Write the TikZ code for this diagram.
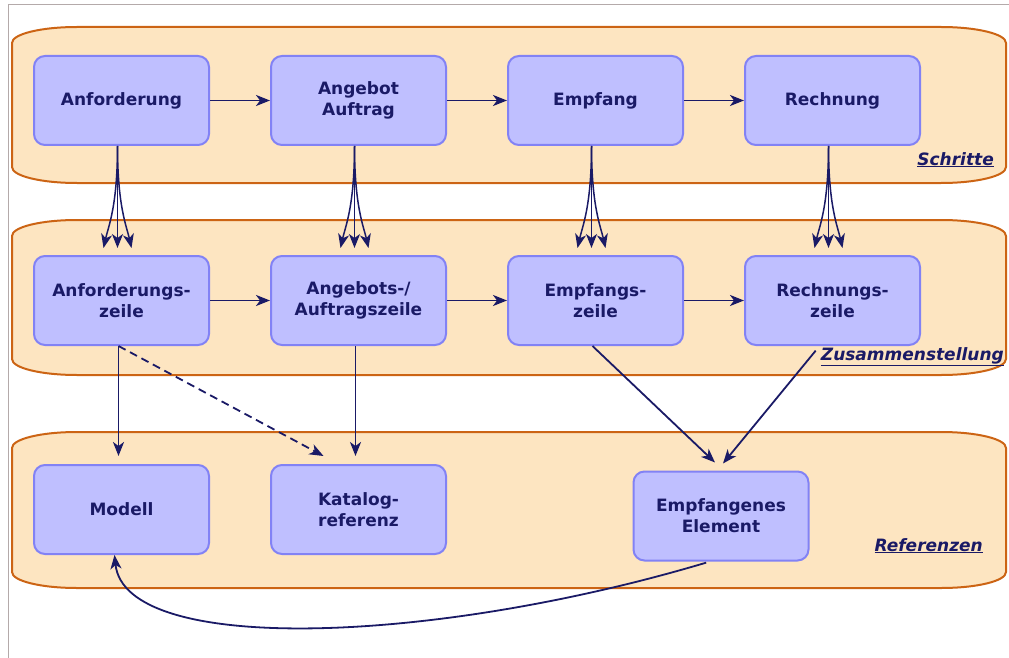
\documentclass[tikz,border=0pt]{standalone}
\usepackage{fontspec}
\setmainfont{DejaVu Sans}
\usepackage{xcolor}
\definecolor{Lavender}{HTML}{BFBFFF}
\definecolor{Periwinkle}{HTML}{8282F5}
\definecolor{Peach}{HTML}{FDE5C1}
\definecolor{Rust}{HTML}{CC6414}
\definecolor{Midnight}{HTML}{1A1A66}
\definecolor{Ash}{HTML}{B4AAAA}
\colorlet{cFill}{Lavender}
\colorlet{cBorder}{Periwinkle}
\colorlet{cText}{Midnight}
\usepackage{tikz}
\usetikzlibrary{arrows.meta, positioning}
\tikzset{
	node distance = 60pt,
	line width = 1.5pt,
	>={Stealth[length=14pt,width=11pt,inset=4pt]},
	font = \fontsize{17}{21}\selectfont\bfseries,
	box/.style={
		draw=cBorder,
		fill=cFill,
		line width=2pt,
		rounded corners=11pt,
		minimum width=175pt,
		minimum height=89pt,
		align=center,
		text=cText,
		inner sep=0pt
	},
	edge/.style={
		->,
		draw=cText,
		line width=1.8pt
	},
	fan/.style={
		->,
		draw=cText,
		line width=1.5pt
	},
	panel/.style={
		draw=Rust,
		fill=Peach,
		line width=2pt
	},
	tag/.style={
		font=\fontsize{17}{21}\selectfont\bfseries\itshape,
		text=cText,
		anchor=base east,
		inner sep=0pt
	}
}

\begin{document}
\begin{tikzpicture}[x=1pt, y=-1pt]
	\useasboundingbox (0,0) rectangle (1009,658);
	\draw[Ash, line width=1pt] (8,658) -- (8,4.5) -- (1009,4.5);

	% the three bands
	\foreach \ya/\yb in {27/183, 220/375, 432/588}
		\draw[panel] (12,\ya+16) .. controls (12,\ya+7) and (41,\ya) .. (77,\ya)
			-- (941,\ya) .. controls (977,\ya) and (1006,\ya+7) .. (1006,\ya+16)
			-- (1006,\yb-16) .. controls (1006,\yb-7) and (977,\yb) .. (941,\yb)
			-- (77,\yb) .. controls (41,\yb) and (12,\yb-7) .. (12,\yb-16) -- cycle;

	\node (schritte) [tag] at (994,165) {\underline{Schritte}};
	\node (zusammen) [tag] at (1004,360) {\underline{Zusammenstellung}};
	\node (referenzen) [tag] at (983,551) {\underline{Referenzen}};

	\node (anf) [box] at (121.5,100.5) {Anforderung};
	\node (ang) [box, right=of anf] {Angebot\\Auftrag};
	\node (emp) [box, right=of ang] {Empfang};
	\node (rech) [box, right=of emp] {Rechnung};

	\node (anfz) [box, below=109pt of anf] {Anforderungs-\\zeile};
	\node (angz) [box, right=of anfz] {Angebots-/\\Auftragszeile};
	\node (empz) [box, right=of angz] {Empfangs-\\zeile};
	\node (rechz) [box, right=of empz] {Rechnungs-\\zeile};

	\node (mod) [box, below=118pt of anfz] {Modell};
	\node (kat) [box, right=of mod] {Katalog-\\referenz};
	\node (elem) [box] at (721,516) {Empfangenes\\Element};

	\draw[edge] (anf) -- (ang);
	\draw[edge] (ang) -- (emp);
	\draw[edge] (emp) -- (rech);
	\draw[edge] (anfz) -- (angz);
	\draw[edge] (angz) -- (empz);
	\draw[edge] (empz) -- (rechz);

	\foreach \src/\dst in {anf/anfz, ang/angz, emp/empz, rech/rechz} {
		\draw[fan, shorten >=7pt] ([xshift=-4pt]\src.south) -- ([xshift=-4pt]\dst.north);
		\draw[fan] ([xshift=-4pt]\src.south) .. controls +(0,60) and +(5,-22) .. ([xshift=-18pt, yshift=7pt]\dst.north);
		\draw[fan] ([xshift=-4pt]\src.south) .. controls +(0,60) and +(-5,-22) .. ([xshift=10pt, yshift=7pt]\dst.north);
	}

	\draw[edge, shorten >=8pt] ([xshift=-3pt]anfz.south) -- ([xshift=-3pt]mod.north);
	\draw[edge, shorten >=8pt] ([xshift=-3pt]angz.south) -- ([xshift=-3pt]kat.north);
	\draw[edge, dash pattern=on 8pt off 5pt] ([xshift=-3pt]anfz.south) -- ([xshift=-35pt, yshift=8pt]kat.north);
	\draw[edge] ([xshift=-3pt]empz.south) -- ([xshift=-6pt, yshift=8pt]elem.north);
	\draw[edge, shorten <=6pt] ([xshift=-13pt]rechz.south) -- ([xshift=2pt, yshift=7pt]elem.north);
	\draw[edge, shorten <=4pt] ([xshift=-11pt]elem.south) .. controls (430,645) and (125,655) .. ([xshift=-7pt]mod.south);
\end{tikzpicture}
\end{document}
